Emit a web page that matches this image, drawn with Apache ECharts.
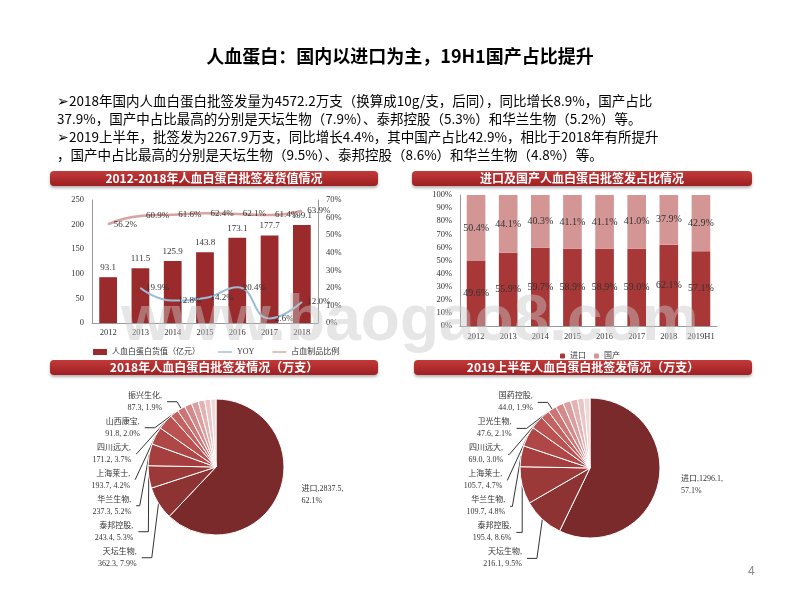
<!DOCTYPE html>
<html><head><meta charset="utf-8">
<script src="https://cdn.jsdelivr.net/npm/echarts@6/dist/echarts.min.js"></script>
<style>html,body{margin:0;padding:0;background:#fff}#c{width:800px;height:600px}</style>
</head><body><div id="c"></div>
<script>
const years = ['2012','2013','2014','2015','2016','2017','2018'];
const value = [93.1,111.5,125.9,143.8,173.1,177.7,199.1];
const yoy = [null,19.9,12.8,14.2,20.4,2.6,12.0];
const share = [56.2,60.9,61.6,62.4,62.1,61.4,63.9];
const years2 = ['2012','2013','2014','2015','2016','2017','2018','2019H1'];
const importPct = [49.6,55.9,59.7,58.9,58.9,59.0,62.1,57.1];
const domesticPct = [50.4,44.1,40.3,41.1,41.1,41.0,37.9,42.9];
const pie18Names = ['进口','天坛生物','泰邦控股','华兰生物','上海莱士','四川远大','山西康宝','振兴生化','','','','',''];
const pie18Vals = [2837.5,362.3,243.4,237.3,193.7,171.2,91.8,87.3,80,75,70,65,57.7];
const pie18Pct = ['62.1%','7.9%','5.3%','5.2%','4.2%','3.7%','2.0%','1.9%'];
const pie19Names = ['进口','天坛生物','泰邦控股','华兰生物','上海莱士','四川远大','卫光生物','国药控股','','','','',''];
const pie19Vals = [1296.1,216.1,195.4,109.7,105.7,69.0,47.6,44.0,42,40,37,34,31.3];
const pie19Pct = ['57.1%','9.5%','8.6%','4.8%','4.7%','3.0%','2.1%','1.9%'];

const pieColors = ['#7a2a2a','#8e3333','#9b3838','#a53e3e','#b04747','#bb5151','#c46262','#cd7575','#d58a8a','#dc9e9e','#e3b2b2','#eac5c5','#f1d8d8'];
const serif = '"Liberation Serif", "Noto Sans CJK SC", serif';
function pieData(names, vals, pcts){
  return vals.map((v,i)=>({name:names[i]||('其他'+i), value:v,
    itemStyle:{color:pieColors[i]},
    label:{show:i<8, formatter: i===0 ? (names[i]+','+v.toFixed(1)+',\n'+pcts[i]) : (names[i]+',\n'+v.toFixed(1)+', '+pcts[i])},
    labelLine:{show:i<8 && i>0}}));
}
function banner(x,y,w,txt){
  return [{type:'rect',shape:{x:x,y:y,width:w,height:15,r:4},style:{fill:new echarts.graphic.LinearGradient(0,0,0,1,[{offset:0,color:'#c23a3a'},{offset:1,color:'#9e1f22'}]),shadowBlur:3,shadowColor:'rgba(0,0,0,0.3)',shadowOffsetY:2}},
  {type:'text',x:x+w/2,y:y+7.5,style:{text:txt,fill:'#fff',font:'bold 12px "Noto Sans CJK SC"',textAlign:'center',textVerticalAlign:'middle'}}];
}
const para = [
 '➢2018年国内人血白蛋白批签发量为4572.2万支（换算成10g/支，后同），同比增长8.9%，国产占比',
 '37.9%，国产中占比最高的分别是天坛生物（7.9%）、泰邦控股（5.3%）和华兰生物（5.2%）等。',
 '➢2019上半年，批签发为2267.9万支，同比增长4.4%，其中国产占比42.9%，相比于2018年有所提升',
 '，国产中占比最高的分别是天坛生物（9.5%）、泰邦控股（8.6%）和华兰生物（4.8%）等。'];
const graphics = [
 {type:'text',x:400,y:56,style:{text:'人血蛋白：国内以进口为主，19H1国产占比提升',fill:'#000',font:'bold 18px "Noto Sans CJK SC"',textAlign:'center',textVerticalAlign:'middle'}},
 ...para.map((t,i)=>({type:'text',x:57,y:101+i*18,style:{text:t,fill:'#000',font:'13.5px "Noto Sans CJK SC"',textVerticalAlign:'middle'}})),
 ...banner(50,171,328,'2012-2018年人血白蛋白批签发货值情况'),
 ...banner(412,171,340,'进口及国产人血白蛋白批签发占比情况'),
 ...banner(50,360,328,'2018年人血白蛋白批签发情况（万支）'),
 ...banner(414,360,338,'2019上半年人血白蛋白批签发情况（万支）'),
 {type:'text',x:748,y:572,style:{text:'4',fill:'#888',font:'12px "Liberation Sans"',textVerticalAlign:'middle'}},
 {type:'text',x:410,y:322,z:100,style:{text:'www.baogao8.com',fill:'rgba(200,200,200,0.45)',font:'bold 64px "Liberation Sans"',textAlign:'center',textVerticalAlign:'middle'}}
];
const lab = {fontFamily:serif,fontSize:9,color:'#333'};
const pctFmt = p => p.value.toFixed(1)+'%';
const chart = echarts.init(document.getElementById('c'));
chart.setOption({
  animation:false,
  graphic:graphics,
  legend:[
   {data:[{name:'人血白蛋白货值（亿元）',icon:'rect'},{name:'YOY',icon:'path://M0,4h20v2h-20z'},{name:'占血制品比例',icon:'path://M0,4h20v2h-20z'}],left:88,top:343,itemWidth:14,itemHeight:6,itemGap:18,textStyle:{fontFamily:serif,fontSize:8,color:'#333'}},
   {data:['进口','国产'],left:555,top:347,itemWidth:5,itemHeight:5,itemGap:8,textStyle:{fontFamily:serif,fontSize:8,color:'#333'}}
  ],
  grid:[{left:92,top:200,width:226,height:123},{left:460,top:195,width:257,height:131}],
  xAxis:[
   {type:'category',data:years,gridIndex:0,axisTick:{show:false},axisLine:{lineStyle:{color:'#999'}},axisLabel:{...lab,fontSize:8.5,margin:6,interval:0}},
   {type:'category',data:years2,gridIndex:1,axisTick:{show:false},axisLine:{lineStyle:{color:'#999'}},axisLabel:{...lab,fontSize:8.5,margin:7,interval:0}}
  ],
  yAxis:[
   {type:'value',gridIndex:0,min:0,max:250,interval:50,splitLine:{show:false},axisLine:{show:true,lineStyle:{color:'#999'}},axisLabel:{...lab,fontSize:8.5}},
   {type:'value',gridIndex:0,min:0,max:70,interval:10,position:'right',splitLine:{show:false},axisLine:{show:true,lineStyle:{color:'#999'}},axisLabel:{...lab,fontSize:8.5,formatter:'{value}%'}},
   {type:'value',gridIndex:1,min:0,max:100,interval:10,splitLine:{show:false},axisLine:{show:true,lineStyle:{color:'#999'}},axisLabel:{...lab,fontSize:8.5,formatter:'{value}%'}}
  ],
  series:[
   {name:'人血白蛋白货值（亿元）',type:'bar',data:value,xAxisIndex:0,yAxisIndex:0,barWidth:'55%',itemStyle:{color:'#9b2a2d'},label:{show:true,position:'top',...lab}},
   {name:'YOY',type:'line',smooth:true,data:yoy,xAxisIndex:0,yAxisIndex:1,symbol:'circle',symbolSize:1,showSymbol:true,itemStyle:{color:'#9bbbd6'},lineStyle:{color:'#9bbbd6',width:2},label:{show:true,position:'right',formatter:pctFmt,...lab}},
   {name:'占血制品比例',type:'line',smooth:true,data:share,xAxisIndex:0,yAxisIndex:1,symbol:'circle',symbolSize:1,showSymbol:true,itemStyle:{color:'#d8a3a0'},lineStyle:{color:'#d8a3a0',width:2.5},label:{show:true,position:'right',formatter:pctFmt,...lab}},
   {name:'进口',type:'bar',stack:'s',data:importPct,xAxisIndex:1,yAxisIndex:2,barWidth:'58%',itemStyle:{color:'#a83838'},label:{show:true,formatter:pctFmt,...lab,fontSize:10}},
   {name:'国产',type:'bar',stack:'s',data:domesticPct,xAxisIndex:1,yAxisIndex:2,barWidth:'58%',itemStyle:{color:'#d49595'},label:{show:true,formatter:pctFmt,...lab,fontSize:10}},
   {type:'pie',center:[216,467],radius:[0,68],startAngle:90,clockwise:true,data:pieData(pie18Names,pie18Vals,pie18Pct),itemStyle:{borderColor:'#fff',borderWidth:1},label:{...lab,fontSize:8,lineHeight:12},labelLine:{length:8,length2:10,lineStyle:{color:'#333'}}},
   {type:'pie',center:[590,468],radius:[0,70],startAngle:90,clockwise:true,data:pieData(pie19Names,pie19Vals,pie19Pct),itemStyle:{borderColor:'#fff',borderWidth:1},label:{...lab,fontSize:8,lineHeight:12},labelLine:{length:8,length2:10,lineStyle:{color:'#333'}}}
  ]
});
</script></body></html>
